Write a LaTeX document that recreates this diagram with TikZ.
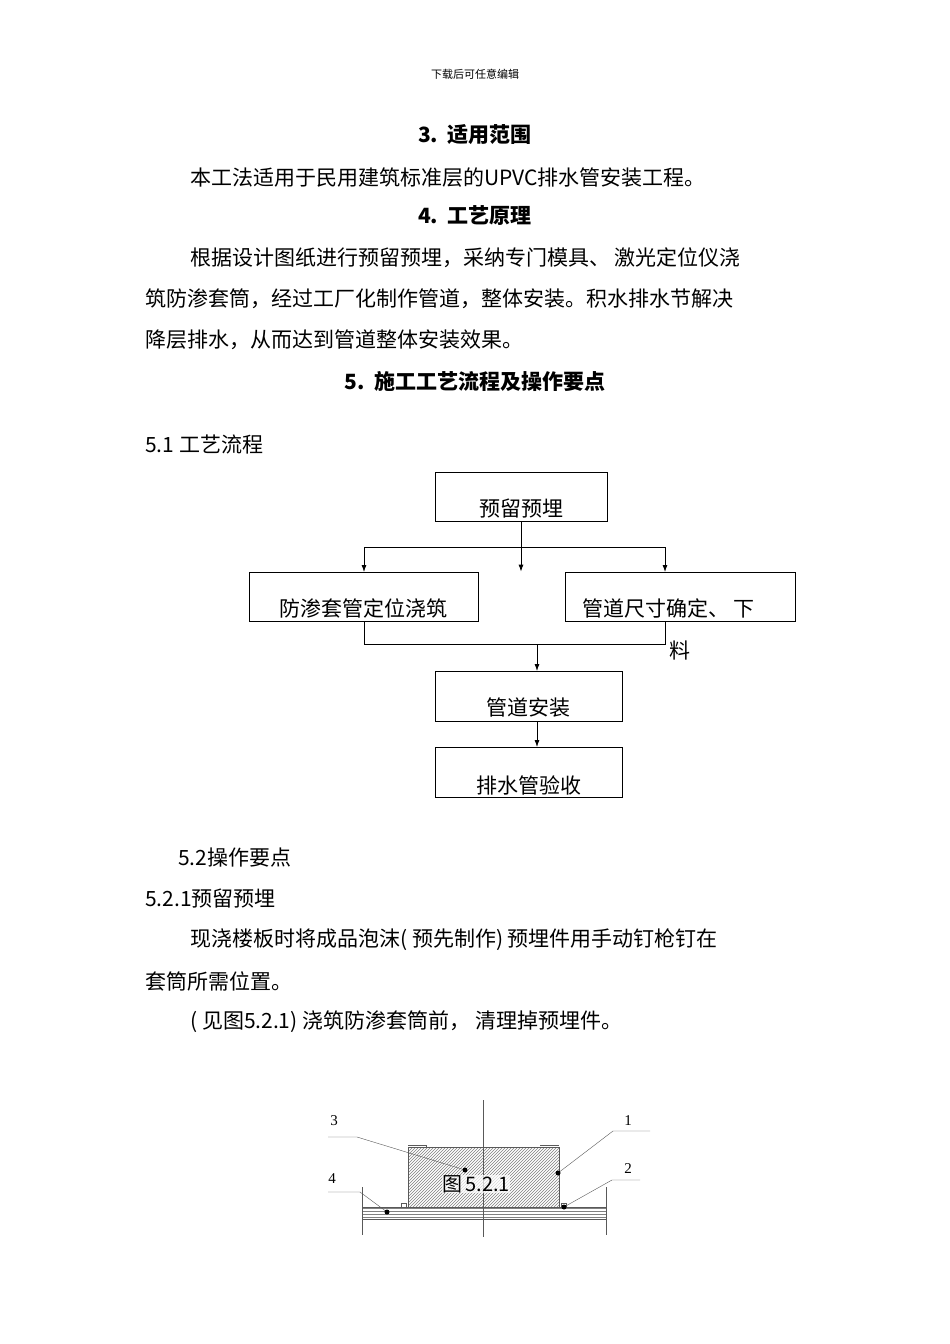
\documentclass[tikz,border=0pt]{standalone}
\usepackage{fontspec}
\setmainfont{Liberation Serif}
\newfontfamily\cjk{Noto Sans CJK SC}
\usetikzlibrary{patterns,arrows.meta}
\begin{document}
\begin{tikzpicture}[x=1pt,y=-1pt,
  body/.style={anchor=west,inner sep=0,font=\fontsize{21}{21}\selectfont\cjk},
  head/.style={inner sep=0,font=\fontsize{21}{21}\selectfont\cjk\bfseries},
  fbox/.style={draw,thick,minimum width=0},
  flow/.style={thick},
  arr/.style={thick,-{Latex[length=7pt,width=5pt]}},
  fig/.style={line width=0.4pt,gray!70!black},
  lbl/.style={inner sep=0,font=\fontsize{15}{15}\selectfont}]
\useasboundingbox[fill=white] (0,0) rectangle (950,1344);
\node[inner sep=0,font=\fontsize{11}{11}\selectfont\cjk] (hd) at (475,74) {下载后可任意编辑};
\node[head] (h3) at (475,135) {3.\ \ 适用范围};
\node[body] (t1) at (190,178) {本工法适用于民用建筑标准层的UPVC排水管安装工程。};
\node[head] (h4) at (475,216) {4.\ \ 工艺原理};
\node[body] (t2) at (190,258) {根据设计图纸进行预留预埋，采纳专门模具、\ 激光定位仪浇};
\node[body] (t3) at (145,299) {筑防渗套筒，经过工厂化制作管道，整体安装。积水排水节解决};
\node[body] (t4) at (145,340) {降层排水，从而达到管道整体安装效果。};
\node[head] (h5) at (475,381) {5.\ \ 施工工艺流程及操作要点};
\node[body] (s51) at (145,444) {5.1 工艺流程};
% flowchart
\node[fbox,minimum width=172,minimum height=49] (b1) at (521,496.5) {};
\node[body,anchor=center] at (521,509) {预留预埋};
\node[fbox,minimum width=229,minimum height=49] (b2) at (363.5,596.5) {};
\node[body,anchor=center] at (363.5,608) {防渗套管定位浇筑};
\node[fbox,minimum width=230,minimum height=49] (b3) at (680,596.5) {};
\node[body] at (582,608) {管道尺寸确定、\ 下};
\node[body] at (669,651) {料};
\node[fbox,minimum width=187,minimum height=50] (b4) at (528.5,696) {};
\node[body,anchor=center] at (528.5,708) {管道安装};
\node[fbox,minimum width=187,minimum height=50] (b5) at (528.5,772) {};
\node[body,anchor=center] at (528.5,785) {排水管验收};
\coordinate (sp) at (521,547);
\draw[arr] (b1.south) -- (b1.south|-b2.north);
\draw[flow] (364,547) -- (665,547);
\draw[arr] (364,547) -- (364,572);
\draw[arr] (665,547) -- (665,572);
\draw[flow] (364,621) -- (364,644) -- (665,644) -- (665,621);
\draw[arr] (537,644) -- (537,671);
\draw[arr] (537,721) -- (537,747);
\node[body] (s52) at (178,858) {5.2操作要点};
\node[body] (s521) at (145,899) {5.2.1预留预埋};
\node[body] (t5) at (190,940) {现浇楼板时将成品泡沫(\ 预先制作)\ 预埋件用手动钉枪钉在};
\node[body] (t6) at (145,981) {套筒所需位置。};
\node[body] (t7) at (190,1022) {(\ 见图5.2.1)\ 浇筑防渗套筒前，\ 清理掉预埋件。};
% figure
\fill[pattern=north east lines,pattern color=gray] (408,1147) rectangle (559,1207);
\draw[fig] (408,1207) -- (408,1147) -- (426,1147) -- (426,1145) -- (408,1145);
\draw[fig] (408,1147) -- (559,1147) -- (559,1207);
\draw[fig] (540,1145) -- (559,1145);
\fill[pattern=horizontal lines,pattern color=gray] (362,1207) rectangle (606,1219);
\draw[fig] (362,1207) -- (606,1207);
\draw[fig] (362,1219) -- (606,1219);
\draw[fig] (362,1187) -- (362,1235);
\draw[fig] (606,1187) -- (606,1235);
\draw[fig] (401,1203) rectangle (406,1207);
\draw[fig] (561,1203) rectangle (566,1207);
\draw[fig] (483,1100) -- (483,1237);
\node[inner sep=0,font=\fontsize{20}{20}\selectfont\cjk,fill=white,fill opacity=0.7,text opacity=1] (cap) at (476,1184) {图\,5.2.1};
\node[lbl] (n3) at (334,1121) {3};
\node[lbl] (n1) at (628,1121) {1};
\node[lbl] (n4) at (332,1179) {4};
\node[lbl] (n2) at (628,1169) {2};
\coordinate (p3) at (465,1170);
\coordinate (p1) at (558,1173);
\coordinate (p2) at (564,1207);
\coordinate (p4) at (387,1212);
\draw[fig] (328,1137) -- (357,1137) -- (p3);
\draw[fig] (650,1131) -- (613,1131) -- (p1);
\draw[fig] (640,1180) -- (612,1180) -- (p2);
\draw[fig] (328,1192) -- (360,1192) -- (p4);
\foreach \p in {p1,p2,p3,p4} \fill (\p) circle (2.5);
\end{tikzpicture}
\end{document}
